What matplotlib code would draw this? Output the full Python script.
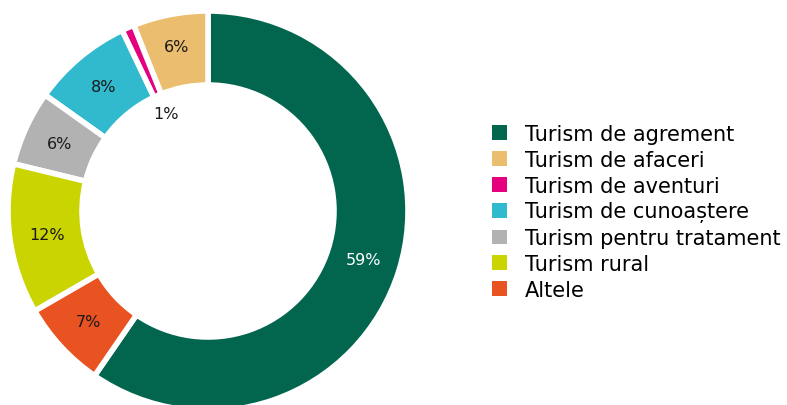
import matplotlib.pyplot as plt
from matplotlib.patches import Patch

categories = ["Turism de agrement", "Turism de afaceri", "Turism de aventuri",
              "Turism de cunoaștere", "Turism pentru tratament", "Turism rural", "Altele"]
values = [59, 6, 1, 8, 6, 12, 7]
colors = ["#02664F", "#EBBD6E", "#E5007E", "#31B9CE", "#B2B2B2", "#C9D400", "#E85321"]

fig = plt.figure(figsize=(7.87, 4.06), dpi=100)
ax = fig.add_axes([8 / 787, -6 / 406, 400 / 787, 400 / 406])

start = 90 - values[0] / sum(values) * 360
wedges, texts, autotexts = ax.pie(
    values, colors=colors, startangle=start, counterclock=True,
    radius=1, wedgeprops=dict(width=0.37, edgecolor="white", linewidth=4),
    autopct=lambda p: "%d%%" % round(p * sum(values) / 100), pctdistance=0.815,
    textprops=dict(fontsize=11.5, color="#1a1a1a"))
ax.set_xlim(-1, 1)
ax.set_ylim(-1, 1)

autotexts[0].set_color("white")
# the 1% label sits inside the hole
x, y = autotexts[2].get_position()
autotexts[2].set_position((x * 0.53 / 0.815, y * 0.53 / 0.815))
x, y = autotexts[1].get_position()
autotexts[1].set_position((x * 0.84 / 0.815, y * 0.84 / 0.815))

handles = [Patch(facecolor=c, edgecolor="none") for c in colors]
fig.legend(handles, categories, loc="center left", bbox_to_anchor=(492 / 787, 193 / 406),
           frameon=False, fontsize=15, handlelength=0.72, handleheight=0.72,
           handletextpad=0.87, labelspacing=0.28, borderaxespad=0, borderpad=0)

fig.savefig("out.png", dpi=100)
